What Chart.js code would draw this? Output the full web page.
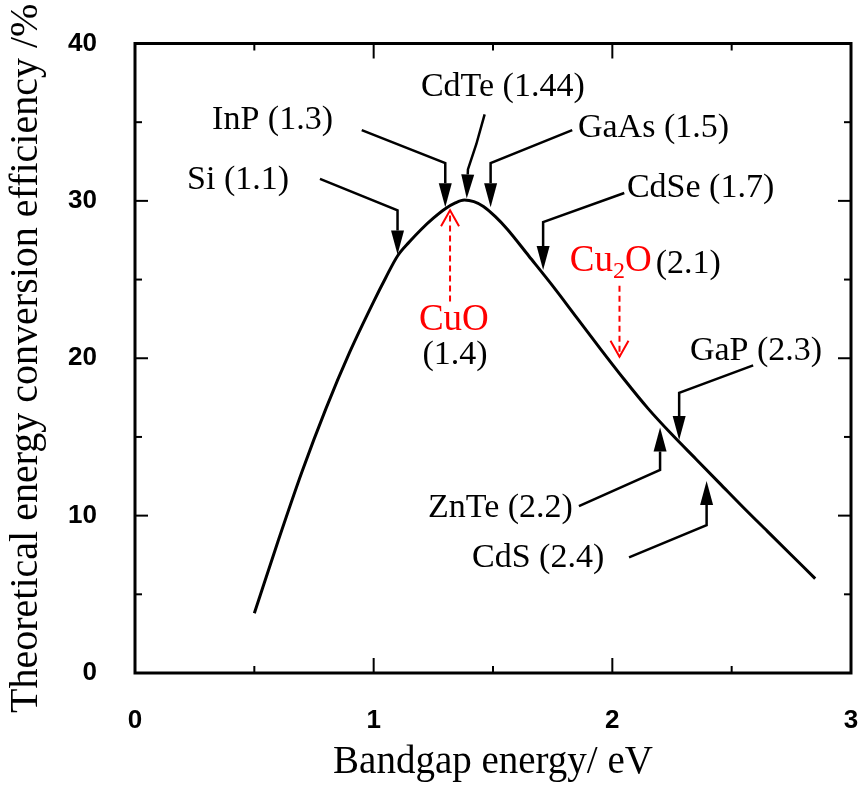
<!DOCTYPE html>
<html>
<head>
<meta charset="utf-8">
<script src="https://cdn.jsdelivr.net/npm/chart.js@4.4.0/dist/chart.umd.min.js"></script>
<style>
  html, body { margin: 0; padding: 0; background: #fff; }
  canvas { display: block; }
</style>
</head>
<body>
<canvas id="myChart" width="864" height="785"></canvas>
<script>
// theoretical efficiency curve
var bandgap = [0.5, 0.6, 0.7, 0.8, 0.9, 1.0, 1.05, 1.1, 1.15, 1.2, 1.25, 1.3, 1.34, 1.38, 1.42,
	1.46, 1.51, 1.56, 1.65, 1.75, 1.85, 1.95, 2.05, 2.15, 2.25, 2.35, 2.45, 2.55, 2.65, 2.75, 2.85];
var efficiency = [3.8, 8.4, 12.8, 16.8, 20.4, 23.6, 25.1, 26.5, 27.4, 28.2, 28.9, 29.5, 29.85, 30.05, 29.95,
	29.65, 29.0, 28.2, 26.5, 24.6, 22.6, 20.6, 18.65, 16.8, 15.15, 13.6, 12.05, 10.5, 9.0, 7.5, 6.0];

var xLabels = [0, 1, 2, 3];
var yLabels = [0, 10, 20, 30, 40];

var materials = ['Si', 'InP', 'CdTe', 'GaAs', 'CdSe', 'GaP', 'ZnTe', 'CdS'];
var materialGaps = [1.1, 1.3, 1.44, 1.5, 1.7, 2.3, 2.2, 2.4];
var oxides = ['CuO', 'Cu2O'];
var oxideGaps = [1.4, 2.1];

// where the callouts sit (data units): text = left edge / baseline
var callouts = {
	Si: { text: [0.218, 30.75], path: [[0.775, 31.4], [1.10, 29.4]], tip: [1.10, 26.6] },
	InP: { text: [0.323, 34.57], path: [[0.95, 34.5], [1.30, 32.4]], tip: [1.30, 29.6] },
	CdTe: { text: [1.198, 36.64], path: [[1.465, 35.5], [1.43, 33.6], [1.395, 32.0]], tip: [1.39, 30.15] },
	GaAs: { text: [1.856, 34.03], path: [[1.832, 34.5], [1.49, 32.4]], tip: [1.49, 29.6] },
	CdSe: { text: [2.061, 30.24], path: [[2.05, 30.5], [1.71, 28.65]], tip: [1.71, 25.6] },
	GaP: { text: [2.325, 19.88], path: [[2.59, 19.55], [2.28, 17.8]], tip: [2.28, 14.8] },
	ZnTe: { text: [1.2275, 9.9], path: [[1.86, 10.6], [2.2, 12.9]], tip: [2.2, 15.6] },
	CdS: { text: [1.412, 6.72], path: [[2.07, 7.35], [2.395, 9.4]], tip: [2.395, 12.2] },
};
var oxideMarks = {
	CuO: { text: [1.336, 21.79], sub: [1.341, 19.63], from: [1.32, 23.6], tip: [1.32, 29.4] },
	Cu2O: { text: [1.822, 25.54], from: [2.03, 24.6], tip: [2.03, 20.1] },
};

var SERIF = '"Liberation Serif", "Times New Roman", serif';
var RED = '#ff0000';

var decor = {
	id: 'decor',
	afterDatasetsDraw: function (chart) {
		var ctx = chart.ctx;
		var a = chart.chartArea;
		var xs = chart.scales.x;
		var ys = chart.scales.y;
		function px(p) {
			return [xs.getPixelForValue(p[0]), ys.getPixelForValue(p[1])];
		}
		function seg(x1, y1, x2, y2) {
			ctx.beginPath();
			ctx.moveTo(x1, y1);
			ctx.lineTo(x2, y2);
			ctx.stroke();
		}
		ctx.save();
		ctx.strokeStyle = '#000';
		ctx.fillStyle = '#000';

		// frame
		ctx.lineWidth = 3;
		ctx.strokeRect(a.left, a.top, a.right - a.left, a.bottom - a.top);

		// inward ticks on all four sides
		ctx.lineWidth = 2;
		xs.ticks.forEach(function (t) {
			var p = xs.getPixelForValue(t.value);
			var len = xLabels.indexOf(t.value) >= 0 ? 15 : 7;
			seg(p, a.bottom, p, a.bottom - len);
			seg(p, a.top, p, a.top + len);
		});
		ys.ticks.forEach(function (t) {
			var p = ys.getPixelForValue(t.value);
			var len = yLabels.indexOf(t.value) >= 0 ? 13 : 7;
			seg(a.left, p, a.left + len, p);
			seg(a.right, p, a.right - len, p);
		});

		// black callouts with filled arrowheads
		ctx.font = '34px ' + SERIF;
		ctx.textAlign = 'left';
		ctx.textBaseline = 'alphabetic';
		materials.forEach(function (name, i) {
			var c = callouts[name];
			var t = px(c.text);
			ctx.fillText(name + ' (' + materialGaps[i] + ')', t[0], t[1]);

			var pts = c.path.map(px);
			var tip = px(c.tip);
			var last = pts[pts.length - 1];
			var dx = tip[0] - last[0], dy = tip[1] - last[1];
			var d = Math.hypot(dx, dy);
			var ux = dx / d, uy = dy / d;
			var hl = 24, hw = 6.5;
			var bx = tip[0] - ux * hl, by = tip[1] - uy * hl;

			ctx.lineWidth = 2.5;
			ctx.beginPath();
			ctx.moveTo(pts[0][0], pts[0][1]);
			for (var k = 1; k < pts.length; k++) ctx.lineTo(pts[k][0], pts[k][1]);
			ctx.lineTo(bx, by);
			ctx.stroke();

			ctx.beginPath();
			ctx.moveTo(tip[0], tip[1]);
			ctx.lineTo(bx - uy * hw, by + ux * hw);
			ctx.lineTo(bx + uy * hw, by - ux * hw);
			ctx.closePath();
			ctx.fill();
		});

		// red dashed arrows for the copper oxides
		oxides.forEach(function (name, i) {
			var m = oxideMarks[name];
			var f = px(m.from), tip = px(m.tip);
			var dir = tip[1] < f[1] ? -1 : 1;
			ctx.strokeStyle = RED;
			ctx.lineWidth = 2;
			ctx.setLineDash([6, 4]);
			seg(f[0], f[1], tip[0], tip[1]);
			ctx.setLineDash([]);
			ctx.beginPath();
			ctx.moveTo(tip[0] - 9, tip[1] - dir * 16);
			ctx.lineTo(tip[0], tip[1]);
			ctx.lineTo(tip[0] + 9, tip[1] - dir * 16);
			ctx.stroke();

			var t = px(m.text);
			if (name === 'CuO') {
				ctx.textAlign = 'center';
				ctx.fillStyle = RED;
				ctx.font = '37px ' + SERIF;
				ctx.fillText(name, t[0], t[1]);
				var s = px(m.sub);
				ctx.fillStyle = '#000';
				ctx.font = '34px ' + SERIF;
				ctx.fillText('(' + oxideGaps[i] + ')', s[0], s[1]);
			} else {
				ctx.textAlign = 'left';
				ctx.fillStyle = RED;
				ctx.font = '37px ' + SERIF;
				var x0 = t[0];
				ctx.fillText('Cu', x0, t[1]);
				x0 += ctx.measureText('Cu').width;
				ctx.font = '24px ' + SERIF;
				ctx.fillText('2', x0, t[1] + 7);
				x0 += ctx.measureText('2').width;
				ctx.font = '37px ' + SERIF;
				ctx.fillText('O', x0, t[1]);
				x0 += ctx.measureText('O').width + 4;
				ctx.fillStyle = '#000';
				ctx.font = '34px ' + SERIF;
				ctx.fillText('(' + oxideGaps[i] + ')', x0, t[1] + 2);
			}
		});
		ctx.restore();
	},
};

// keep chart area fixed: drop the edge padding Chart.js adds for tick labels
function noEdgePadding(s) {
	s.paddingTop = 0;
	s.paddingBottom = 0;
	s.paddingLeft = 0;
	s.paddingRight = 0;
}

var tickFont = { family: '"Liberation Sans", Arial, sans-serif', size: 26, weight: 'bold' };

new Chart('myChart', {
	type: 'scatter',
	data: {
		datasets: [
			{
				data: bandgap.map(function (v, i) { return { x: v, y: efficiency[i] }; }),
				showLine: true,
				borderColor: '#000',
				borderWidth: 3,
				pointRadius: 0,
				cubicInterpolationMode: 'monotone',
				fill: false,
			},
		],
	},
	options: {
		responsive: false,
		animation: false,
		devicePixelRatio: 1,
		layout: { padding: { top: 43.5, right: 13, bottom: 0, left: 0 } },
		plugins: { legend: { display: false }, tooltip: { enabled: false } },
		scales: {
			x: {
				type: 'linear',
				min: 0,
				max: 3,
				grid: { display: false, drawTicks: false },
				border: { display: false },
				ticks: {
					stepSize: 0.5,
					autoSkip: false,
					maxRotation: 0,
					padding: 32,
					color: '#000',
					font: tickFont,
					callback: function (v) { return xLabels.indexOf(v) >= 0 ? String(v) : ''; },
				},
				title: {
					display: true,
					text: 'Bandgap energy/ eV',
					color: '#000',
					font: { family: SERIF, size: 39, lineHeight: 1 },
					padding: { top: 0, bottom: 3 },
				},
				afterFit: function (s) {
					s.height = 112;
					noEdgePadding(s);
				},
			},
			y: {
				min: 0,
				max: 40,
				grid: { display: false, drawTicks: false },
				border: { display: false },
				ticks: {
					stepSize: 5,
					autoSkip: false,
					padding: 38,
					color: '#000',
					font: tickFont,
					callback: function (v) { return yLabels.indexOf(v) >= 0 ? String(v) : ''; },
				},
				title: {
					display: true,
					text: 'Theoretical energy conversion efficiency /%',
					color: '#000',
					font: { family: SERIF, size: 40, lineHeight: 1 },
					padding: { top: 6, bottom: 0 },
				},
				afterFit: function (s) {
					s.width = 135;
					noEdgePadding(s);
				},
			},
		},
	},
	plugins: [decor],
});
</script>
</body>
</html>
